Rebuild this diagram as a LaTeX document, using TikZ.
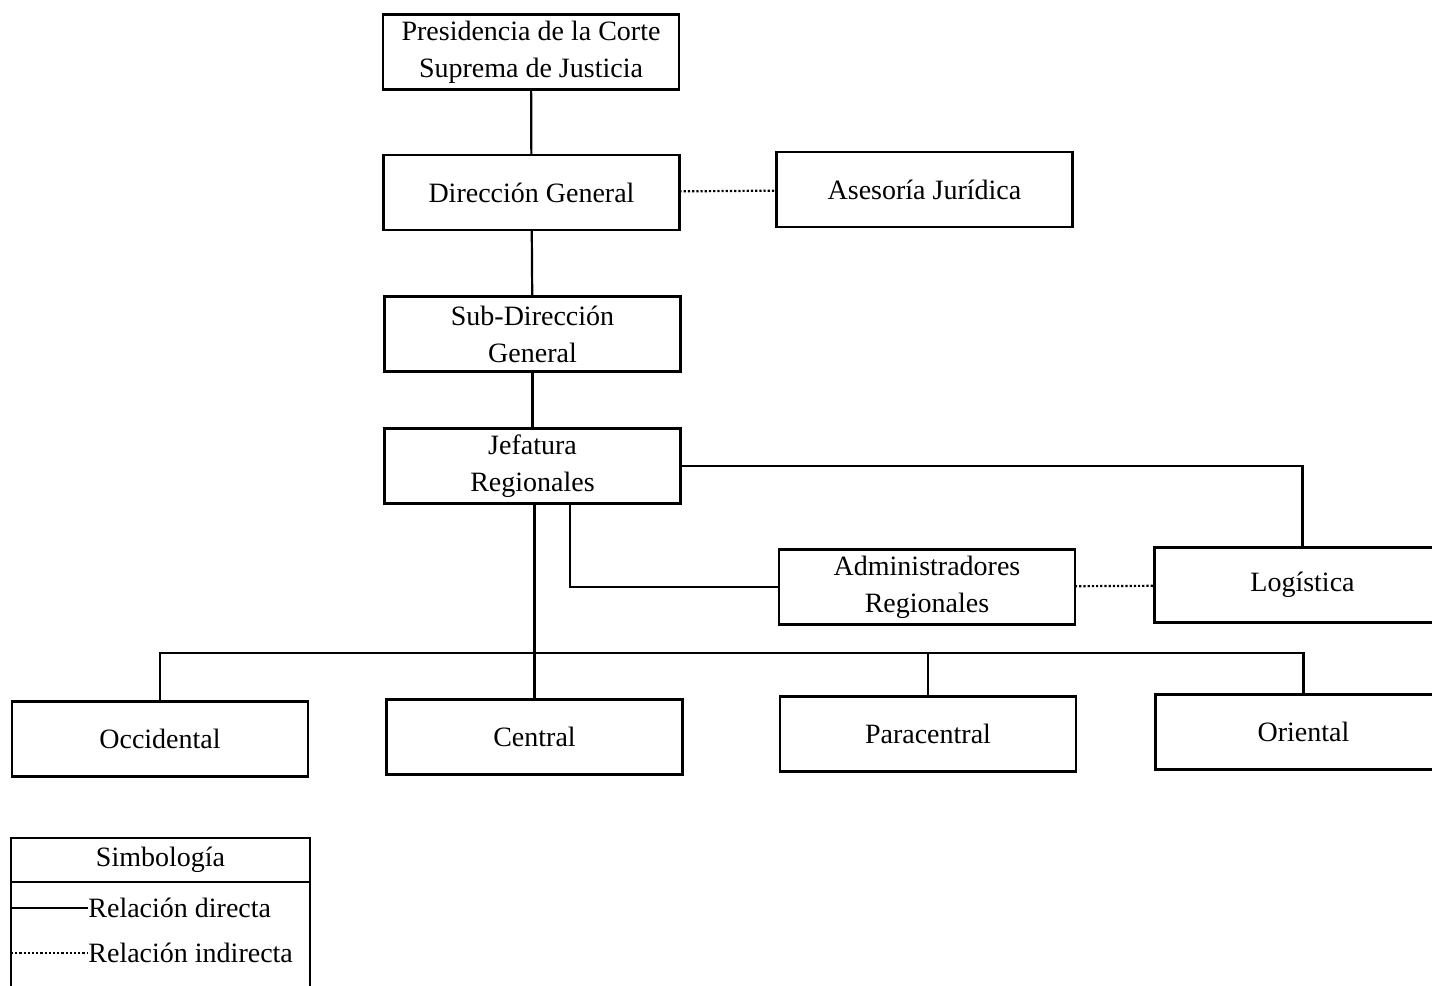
\documentclass[tikz,border=0pt]{standalone}
\usepackage{fontspec}
\setmainfont{Liberation Serif}
\usetikzlibrary{calc}

\begin{document}
\begin{tikzpicture}[x=0.5pt,y=-0.5pt,
    unidad/.style={draw,line width=1.3pt,minimum width=148pt,minimum height=37.5pt,
      align=center,font=\fontsize{14}{18.5}\selectfont,inner sep=0pt,outer sep=0pt},
    enlace/.style={line width=1.1pt},
    indirecto/.style={line width=1.1pt,densely dotted}]

      \useasboundingbox (0,0) rectangle (1432,986);

      % Units
      \node[unidad] (pres) at (531,52)    {Presidencia de la Corte\\Suprema de Justicia};
      \node[unidad] (dir)  at (531.5,192.5) {Dirección General};
      \node[unidad] (ases) at (924.5,189.5) {Asesoría Jurídica};
      \node[unidad] (sub)  at (532.5,334) {Sub-Dirección\\General};
      \node[unidad] (jef)  at (532.5,466) {Jefatura\\Regionales};
      \node[unidad] (adm)  at (927,587)   {Administradores\\Regionales};
      \node[unidad] (log)  at (1302.5,585) {Logística};
      \node[unidad] (occ)  at (160,739)   {Occidental};
      \node[unidad] (cen)  at (534.5,737) {Central};
      \node[unidad] (par)  at (928,734)   {Paracentral};
      \node[unidad] (ori)  at (1303.5,732) {Oriental};

      % Direct relations
      \draw[enlace] (pres) -- (dir);
      \draw[enlace] (dir) -- (sub);
      \draw[enlace] (sub) -- (jef);
      \draw[enlace] (jef.east) -| (log.north);
      \draw[enlace] ($(jef.south)+(37.5,0)$) |- (adm.west);
      \draw[enlace] (jef.south -| cen.north) -- (cen.north);

      % Bus to the regions
      \coordinate (bus) at (0,653);
      \draw[enlace] (occ.north) |- (ori.north |- bus) -- (ori.north);
      \draw[enlace] (par.north |- bus) -- (par.north);

      % Indirect relations
      \draw[indirecto] (dir) -- (ases);
      \draw[indirecto] (adm) -- (log);

      % Legend
      \node[unidad,minimum width=149.5pt,minimum height=22pt] (leg) at (160.5,860) {Simbología};
      \draw[line width=1.3pt] (leg.south west) -- ++(0,120) (leg.south east) -- ++(0,120);
      \node[anchor=west,inner sep=0pt,font=\fontsize{14}{18.5}\selectfont] (ldir) at (88,908) {Relación directa};
      \node[anchor=west,inner sep=0pt,font=\fontsize{14}{18.5}\selectfont] (lind) at (88,953) {Relación indirecta};
      \draw[enlace] (leg.west |- ldir) -- (ldir.west);
      \draw[indirecto] (leg.west |- lind) -- (lind.west);
  \end{tikzpicture}
\end{document}
